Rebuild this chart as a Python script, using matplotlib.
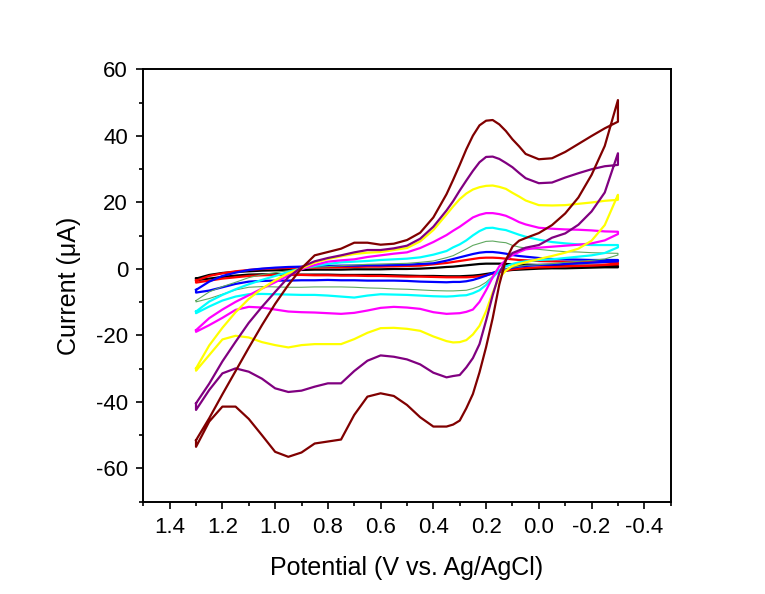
import matplotlib
matplotlib.use('Agg')
import matplotlib.pyplot as plt
from matplotlib.ticker import MultipleLocator

plt.rcParams['font.family'] = ['Liberation Sans', 'DejaVu Sans']
plt.rcParams['axes.unicode_minus'] = False

# potential grid for the cathodic sweep (1.3 V -> -0.3 V), finer around the main peak
potential_fwd = [1.30, 1.25, 1.20, 1.15, 1.10, 1.05, 1.00, 0.95, 0.90, 0.85, 0.80, 0.75, 0.70,
                 0.65, 0.60, 0.55, 0.50, 0.45, 0.40,
                 0.35, 0.325, 0.30, 0.275, 0.25, 0.225, 0.20, 0.175, 0.15, 0.125, 0.10, 0.075, 0.05,
                 0.00, -0.05, -0.10, -0.15, -0.20, -0.25, -0.30]
# the return sweep runs back over the same potentials
potential_rev = potential_fwd[::-1]

# currents in uA: forward sweep (1.3 -> -0.3 V), then return sweep (-0.3 -> 1.3 V)
black_fwd = [-2.9, -1.8, -1.2, -0.9, -0.7, -0.5, -0.4, -0.3, -0.3, -0.2, -0.2, -0.2, -0.1, -0.1, -0.1, 0.0, 0.0, 0.1, 0.3,
             0.6, 0.7, 0.9, 1.1, 1.3, 1.5, 1.6, 1.6, 1.6, 1.5, 1.4, 1.3, 1.3,
             1.2, 1.2, 1.1, 1.0, 1.0, 1.0, 0.9]
black_rev = [0.5, 0.5, 0.4, 0.3, 0.2, 0.2, 0.1,
             -0.1, -0.2, -0.3, -0.5, -0.8, -1.2, -1.5, -1.8, -2.0, -2.1, -2.2, -2.2, -2.2,
             -2.1, -2.1, -2.0, -1.9, -1.8, -1.8, -1.8, -1.8, -1.7, -1.7, -1.7, -1.7, -1.6, -1.6, -1.7, -2.0, -2.4, -2.9, -3.4]

red_fwd = [-3.5, -2.1, -1.3, -0.7, -0.3, 0.0, 0.2, 0.3, 0.4, 0.4, 0.5, 0.5, 0.6, 0.7, 0.7, 0.8, 0.9, 1.0, 1.4,
           1.8, 2.1, 2.4, 2.7, 3.0, 3.3, 3.4, 3.4, 3.3, 3.1, 2.9, 2.7, 2.6,
           2.4, 2.3, 2.2, 2.1, 2.0, 2.0, 1.9]
red_rev = [1.4, 1.2, 1.0, 0.9, 0.8, 0.6, 0.5,
           0.3, 0.1, -0.1, -0.5, -0.9, -1.4, -1.9, -2.2, -2.4, -2.5, -2.5, -2.5, -2.5,
           -2.4, -2.3, -2.3, -2.2, -2.1, -2.1, -2.0, -2.0, -1.9, -1.9, -1.8, -1.8, -1.8, -1.9, -2.1, -2.5, -2.9, -3.5, -4.1]

blue_fwd = [-6.3, -3.8, -2.1, -1.1, -0.3, 0.1, 0.4, 0.6, 0.7, 0.8, 0.9, 1.0, 1.0, 1.1, 1.1, 1.2, 1.3, 1.5, 1.7,
            2.5, 3.0, 3.5, 4.0, 4.5, 4.9, 5.1, 5.1, 4.9, 4.6, 4.2, 3.9, 3.7,
            3.3, 3.0, 2.9, 2.8, 2.7, 2.7, 2.7]
blue_rev = [2.3, 2.1, 1.9, 1.7, 1.5, 1.3, 1.2,
            0.9, 0.7, 0.4, -0.1, -0.5, -1.2, -2.0, -2.7, -3.3, -3.7, -3.9, -3.9, -4.0,
            -3.9, -3.8, -3.6, -3.5, -3.5, -3.5, -3.4, -3.4, -3.3, -3.4, -3.4, -3.5, -3.5, -3.6, -3.8, -4.5, -5.5, -6.5, -7.1]

green_fwd = [-9.5, -6.9, -5.3, -4.0, -2.6, -1.7, -1.1, -0.5, 0.1, 0.5, 0.7, 1.0, 1.2, 1.4, 1.5, 1.6, 1.7, 2.0, 2.4,
             3.4, 4.0, 5.0, 6.0, 7.1, 7.7, 8.3, 8.4, 8.1, 7.9, 7.1, 6.6, 6.3,
             5.9, 5.5, 5.2, 5.1, 4.9, 4.8, 4.7]
green_rev = [4.2, 3.0, 2.6, 2.3, 2.0, 1.6, 1.3,
             1.1, 0.8, 0.5, -0.1, -1.0, -2.2, -4.0, -5.2, -5.9, -6.4, -6.5, -6.6, -6.6,
             -6.5, -6.3, -6.1, -6.0, -5.8, -5.7, -5.5, -5.4, -5.4, -5.4, -5.5, -5.5, -5.4, -5.3, -5.5, -6.3, -7.6, -8.9, -9.9]

cyan_fwd = [-12.8, -9.8, -7.8, -6.1, -4.6, -3.3, -2.1, -0.9, 0.2, 0.9, 1.5, 2.0, 2.2, 2.4, 2.7, 2.9, 3.1, 3.5, 4.3,
            5.4, 6.5, 7.4, 8.6, 10.1, 11.4, 12.3, 12.4, 12.0, 11.7, 11.0, 10.3, 9.7,
            8.8, 8.1, 7.7, 7.4, 7.2, 7.2, 7.2]
cyan_rev = [6.5, 4.8, 4.1, 3.7, 3.3, 2.9, 2.7,
            2.3, 2.0, 1.5, 0.8, -0.4, -2.6, -4.8, -6.4, -7.3, -7.9, -8.0, -8.2, -8.3,
            -8.2, -8.0, -7.8, -7.7, -7.6, -8.0, -8.6, -8.3, -8.0, -7.8, -7.8, -7.7, -7.6, -7.5, -7.6, -8.3, -9.5, -11.3, -13.3]

magenta_fwd = [-18.4, -14.8, -12.2, -9.9, -7.9, -5.9, -4.0, -2.0, -0.1, 1.2, 2.2, 2.6, 2.9, 3.6, 4.1, 4.6, 5.0, 6.3, 8.1,
               10.2, 11.5, 12.7, 14.1, 15.5, 16.3, 16.8, 16.8, 16.5, 16.0, 15.1, 14.1, 13.4,
               12.4, 12.1, 11.9, 11.8, 11.6, 11.3, 11.2]
magenta_rev = [10.5, 8.6, 7.7, 7.3, 7.0, 6.7, 6.4,
               5.9, 5.1, 4.2, 2.7, 0.8, -2.5, -6.4, -9.9, -12.2, -12.9, -13.3, -13.4, -13.5,
               -13.0, -12.0, -11.6, -11.4, -11.7, -12.5, -13.2, -13.5, -13.3, -13.1, -13.0, -12.8, -12.2, -11.6, -11.4,
               -12.3, -14.7, -16.9, -18.9]

yellow_fwd = [-29.9, -23.0, -17.7, -13.0, -9.0, -5.9, -3.4, -1.3, 0.2, 1.9, 3.0, 3.8, 4.5, 4.9, 5.1, 5.7, 6.3, 8.3, 11.7,
              16.4, 18.8, 21.0, 22.7, 23.9, 24.6, 25.0, 25.1, 24.7, 24.1, 22.9, 21.8, 20.6,
              19.2, 19.1, 19.2, 19.6, 20.0, 20.5, 20.8]
yellow_rev = [22.3, 13.2, 8.5, 6.1, 4.9, 3.9, 3.0,
              2.0, 1.5, 0.9, -0.5, -2.6, -7.1, -12.7, -17.1, -19.7, -21.4, -22.0, -22.1, -21.7,
              -20.3, -18.6, -18.0, -17.7, -17.8, -19.2, -21.1, -22.6, -22.6, -22.6, -22.9, -23.6, -22.9, -22.0, -20.6,
              -20.1, -21.2, -25.9, -30.6]

purple_fwd = [-40.4, -34.5, -27.8, -21.9, -16.2, -11.4, -6.9, -2.5, 0.6, 2.3, 3.3, 4.1, 5.0, 5.7, 5.7, 6.2, 7.0, 9.1, 12.7,
              17.6, 20.4, 23.6, 26.6, 29.5, 32.1, 33.7, 33.8, 33.1, 31.9, 30.6, 28.9, 27.3,
              25.8, 26.0, 27.5, 28.8, 30.0, 30.9, 31.3]
purple_rev = [34.8, 23.0, 17.3, 13.3, 10.7, 9.4, 7.2,
              6.4, 5.6, 4.8, 2.7, -1.3, -7.9, -15.5, -22.6, -26.8, -29.6, -31.9, -32.2, -32.6,
              -31.2, -28.7, -27.2, -26.4, -26.0, -27.6, -30.7, -34.4, -34.4, -35.4, -36.6, -37.0, -35.9, -33.0, -30.9,
              -29.9, -31.4, -36.4, -42.4]

maroon_fwd = [-51.5, -44.9, -37.7, -30.7, -23.7, -16.9, -10.5, -4.8, 0.2, 4.1, 5.1, 6.1, 7.9, 7.9, 7.3, 7.6, 8.7, 10.9, 15.5,
              22.5, 26.8, 31.3, 36.0, 40.1, 43.2, 44.6, 44.8, 43.5, 41.5, 39.0, 36.9, 34.6,
              33.0, 33.3, 35.2, 37.6, 40.0, 42.3, 44.3]
maroon_rev = [50.8, 37.0, 28.3, 21.5, 16.7, 13.2, 10.8,
              9.3, 8.5, 6.7, 2.7, -4.7, -14.8, -23.5, -31.1, -37.6, -41.9, -45.6, -46.8, -47.4,
              -47.4, -44.6, -40.9, -38.2, -37.4, -38.4, -43.9, -51.3, -51.9, -52.5, -55.2, -56.5, -55.0, -50.0, -45.1,
              -41.4, -41.4, -45.9, -53.5]

curves = [
    (black_fwd, black_rev, '#000000', 1.6),
    (red_fwd, red_rev, '#ff0000', 1.6),
    (blue_fwd, blue_rev, '#0000ff', 1.6),
    (green_fwd, green_rev, '#5fa85f', 0.8),
    (cyan_fwd, cyan_rev, '#00ffff', 1.6),
    (magenta_fwd, magenta_rev, '#ff00ff', 1.6),
    (yellow_fwd, yellow_rev, '#ffff00', 1.6),
    (purple_fwd, purple_rev, '#800080', 1.6),
    (maroon_fwd, maroon_rev, '#800000', 1.6),
]

fig = plt.figure(figsize=(7.65, 5.94), dpi=100)
ax = fig.add_axes([0.1873, 0.1554, 0.6894, 0.7276])

for fwd, rev, color, lw in curves:
    # close each voltammogram back onto its starting point
    v = potential_fwd + potential_rev + [potential_fwd[0]]
    i = fwd + rev + [fwd[0]]
    ax.plot(v, i, color=color, lw=lw, solid_joinstyle='round')

ax.set_xlim(1.5, -0.5)
ax.set_ylim(-70, 60)
ax.xaxis.set_minor_locator(MultipleLocator(0.1))
ax.yaxis.set_minor_locator(MultipleLocator(10))
ax.set_xticks([1.4, 1.2, 1.0, 0.8, 0.6, 0.4, 0.2, 0.0, -0.2, -0.4])
ax.set_xticklabels(['1.4', '1.2', '1.0', '0.8', '0.6', '0.4', '0.2', '0.0', '-0.2', '-0.4'])
ax.set_yticks([-60, -40, -20, 0, 20, 40, 60])
ax.set_yticklabels(['-60', '-40', '-20', '0', '20', '40', '60'])

ax.tick_params(which='major', direction='out', length=5, width=1.2, labelsize=16, pad=6)
ax.tick_params(which='minor', direction='out', length=3, width=1.2)
ax.tick_params(top=False, right=False)
for sp in ax.spines.values():
    sp.set_linewidth(1.4)

ax.set_xlabel('Potential (V vs. Ag/AgCl)', fontsize=18, labelpad=13)
ax.set_ylabel('Current (\u03bcA)', fontsize=18, labelpad=11)

fig.savefig('out.png', dpi=100)
